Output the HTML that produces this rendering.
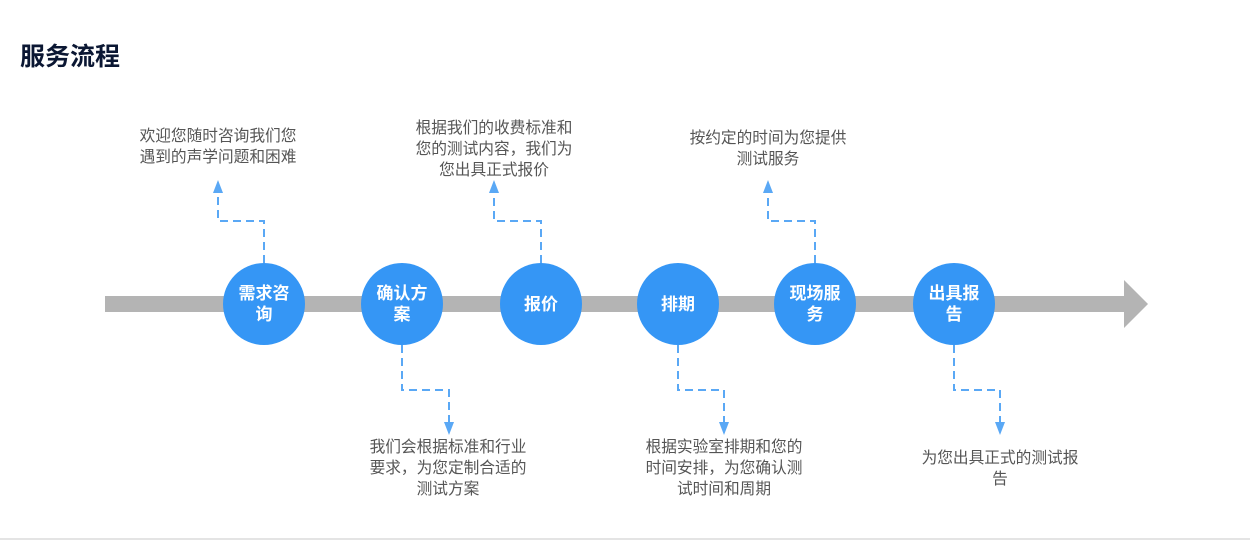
<!DOCTYPE html>
<html><head><meta charset="utf-8"><style>
body{margin:0;width:1250px;height:541px;background:#fff;position:relative;overflow:hidden;font-family:"Liberation Sans","Noto Sans CJK SC",sans-serif}
.t{position:absolute;left:20px;top:37px;font-size:25px;font-weight:bold;color:#0b1733}
.c{position:absolute;width:82px;height:82px;border-radius:50%;background:#3596f5;color:#fff;font-weight:bold;font-size:17px;line-height:21px;display:flex;align-items:center;justify-content:center;text-align:center}
.c span{width:60px}
.d{position:absolute;width:240px;margin-left:-120px;text-align:center;font-size:15.7px;line-height:21px;color:#555;white-space:nowrap}
</style></head><body>
<div class="t">服务流程</div>
<svg width="1250" height="541" style="position:absolute;left:0;top:0">
<rect x="105" y="296" width="1022" height="16" fill="#b4b4b4"/>
<polygon points="1124,280 1148,304 1124,328" fill="#b4b4b4"/>
<g stroke="#5aa8f5" stroke-width="2" fill="none" stroke-dasharray="8,5">
<path d="M264 263V221H218V190"/>
<path d="M541 263V221H494V190"/>
<path d="M815 263V221H768V190"/>
<path d="M402 345V390H449V425"/>
<path d="M678 345V390H724V425"/>
<path d="M954 345V390H1000V425"/>
</g>
<g fill="#5aa8f5">
<polygon points="213,193 223,193 218,180"/>
<polygon points="489,193 499,193 494,180"/>
<polygon points="763,193 773,193 768,180"/>
<polygon points="444,422 454,422 449,435"/>
<polygon points="719,422 729,422 724,435"/>
<polygon points="995,422 1005,422 1000,435"/>
</g>
<line x1="0" y1="539" x2="1250" y2="539" stroke="#e4e4e4" stroke-width="2"/>
</svg>
<div class="c" style="left:223px;top:263px"><span>需求咨询</span></div>
<div class="c" style="left:361px;top:263px"><span>确认方案</span></div>
<div class="c" style="left:500px;top:263px"><span>报价</span></div>
<div class="c" style="left:637px;top:263px"><span>排期</span></div>
<div class="c" style="left:774px;top:263px"><span>现场服务</span></div>
<div class="c" style="left:913px;top:263px"><span>出具报告</span></div>
<div class="d" style="left:218px;top:126px">欢迎您随时咨询我们您<br>遇到的声学问题和困难</div>
<div class="d" style="left:494px;top:118px">根据我们的收费标准和<br>您的测试内容，我们为<br>您出具正式报价</div>
<div class="d" style="left:768px;top:128px">按约定的时间为您提供<br>测试服务</div>
<div class="d" style="left:448px;top:437px">我们会根据标准和行业<br>要求，为您定制合适的<br>测试方案</div>
<div class="d" style="left:724px;top:437px">根据实验室排期和您的<br>时间安排，为您确认测<br>试时间和周期</div>
<div class="d" style="left:1000px;top:448px">为您出具正式的测试报<br>告</div>
</body></html>
